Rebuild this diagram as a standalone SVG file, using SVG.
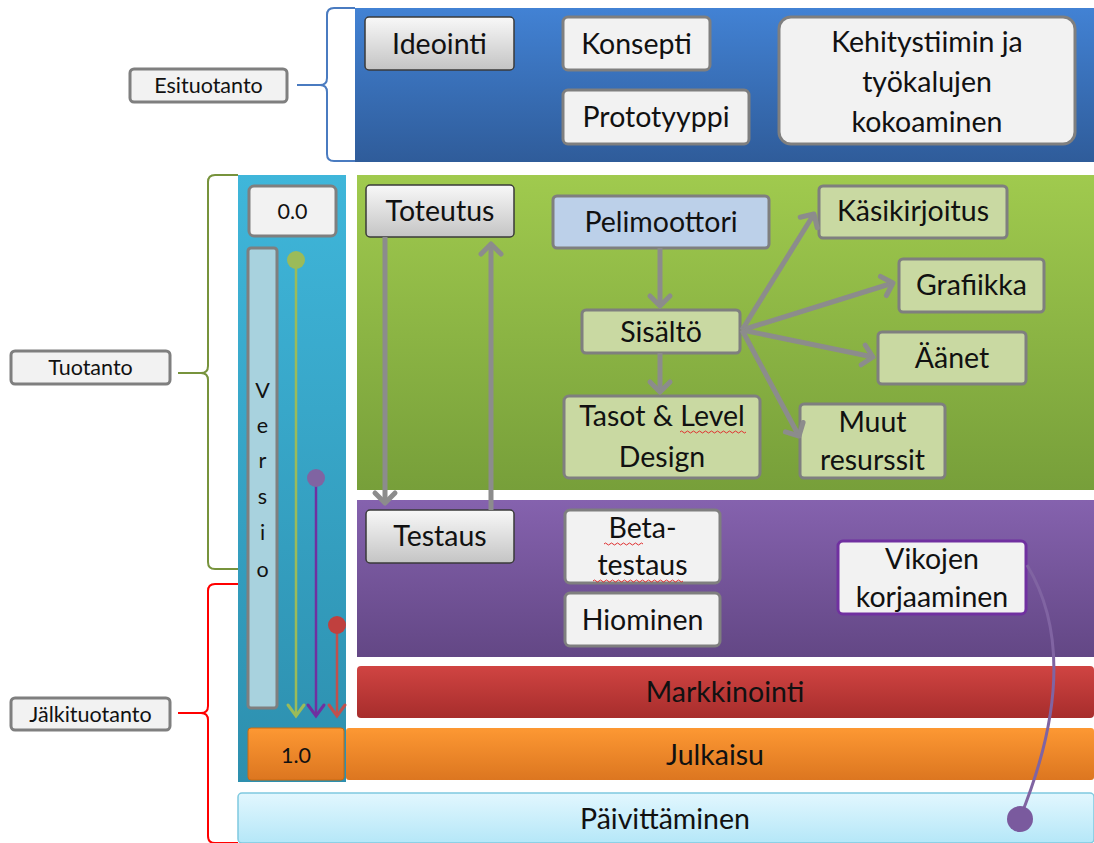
<svg xmlns="http://www.w3.org/2000/svg" width="1094" height="843" viewBox="0 0 1094 843">
<defs>
<linearGradient id="gBlue" x1="0" y1="0" x2="0" y2="1"><stop offset="0" stop-color="#4282d4"/><stop offset="1" stop-color="#2f5c9a"/></linearGradient>
<linearGradient id="gGreen" x1="0" y1="0" x2="0" y2="1"><stop offset="0" stop-color="#a0ca4e"/><stop offset="1" stop-color="#779f3a"/></linearGradient>
<linearGradient id="gPurple" x1="0" y1="0" x2="0" y2="1"><stop offset="0" stop-color="#8562ae"/><stop offset="1" stop-color="#634785"/></linearGradient>
<linearGradient id="gRed" x1="0" y1="0" x2="0" y2="1"><stop offset="0" stop-color="#d04442"/><stop offset="1" stop-color="#a72d2c"/></linearGradient>
<linearGradient id="gOrange" x1="0" y1="0" x2="0" y2="1"><stop offset="0" stop-color="#fd9833"/><stop offset="1" stop-color="#dc7620"/></linearGradient>
<linearGradient id="gCyan" x1="0" y1="0" x2="0" y2="1"><stop offset="0" stop-color="#3fb6da"/><stop offset="1" stop-color="#2d8fae"/></linearGradient>
<linearGradient id="gLight" x1="0" y1="0" x2="0" y2="1"><stop offset="0" stop-color="#e2f7fe"/><stop offset="1" stop-color="#b5e7f8"/></linearGradient>
<linearGradient id="gBtn" x1="0" y1="0" x2="0" y2="1"><stop offset="0" stop-color="#f8f8f8"/><stop offset="1" stop-color="#c4c4c4"/></linearGradient>
<marker id="aGray" markerUnits="userSpaceOnUse" viewBox="-14 -14 28 28" markerWidth="28" markerHeight="28" refX="0" refY="0" orient="auto" overflow="visible">
<path d="M-10,-10 L0,0 L-10,10" fill="none" stroke="#8c8c8c" stroke-width="5" stroke-linecap="round" stroke-linejoin="round"/>
</marker>
<marker id="aG" markerUnits="userSpaceOnUse" viewBox="-14 -14 28 28" markerWidth="28" markerHeight="28" refX="0" refY="0" orient="auto" overflow="visible">
<path d="M-11,-8 L0,0 L-11,8" fill="none" stroke="#9bbb59" stroke-width="3" stroke-linecap="round"/>
</marker>
<marker id="aP" markerUnits="userSpaceOnUse" viewBox="-14 -14 28 28" markerWidth="28" markerHeight="28" refX="0" refY="0" orient="auto" overflow="visible">
<path d="M-11,-8 L0,0 L-11,8" fill="none" stroke="#7030a0" stroke-width="3" stroke-linecap="round"/>
</marker>
<marker id="aR" markerUnits="userSpaceOnUse" viewBox="-14 -14 28 28" markerWidth="28" markerHeight="28" refX="0" refY="0" orient="auto" overflow="visible">
<path d="M-11,-8 L0,0 L-11,8" fill="none" stroke="#c0504d" stroke-width="3" stroke-linecap="round"/>
</marker>
</defs>
<style>
text{font-family:Lato,"Liberation Sans",sans-serif;fill:#111;text-anchor:middle}
.t{font-size:28.5px}
.s{font-size:21.5px}
.box{fill:#f2f2f2;stroke:#7f7f7f;stroke-width:3}
.gbox{fill:#c9d9a2;stroke:#7f7f7f;stroke-width:3}
.btn{fill:url(#gBtn);stroke:#3a3a3a;stroke-width:1.5}
.lab{fill:#f2f2f2;stroke:#7f7f7f;stroke-width:3}
.brace{fill:none;stroke-width:2}
.conn{fill:none;stroke:#8c8c8c;stroke-width:5;marker-end:url(#aGray)}
</style>
<rect width="1094" height="843" fill="#ffffff"/>

<g id="bands">
<rect x="355" y="8" width="739" height="154" fill="url(#gBlue)"/>
<rect x="238" y="175" width="108" height="607" fill="url(#gCyan)"/>
<rect x="357" y="175" width="737" height="315" fill="url(#gGreen)"/>
<rect x="357" y="500" width="737" height="157" fill="url(#gPurple)"/>
<rect x="357" y="666" width="737" height="52" rx="4" fill="url(#gRed)"/>
<rect x="346" y="728" width="748" height="52" rx="3" fill="url(#gOrange)"/>
</g>

<g id="esituotanto">
<rect class="lab" x="130" y="69" width="157" height="33" rx="4"/>
<text class="s" x="208.5" y="93">Esituotanto</text>
<path class="brace" stroke="#4a7bc0" d="M355,8 L334,8 Q327,8 327,15 L327,78 Q327,85 320,85 L297,85 M320,85 Q327,85 327,92 L327,154 Q327,161 334,161 L355,161"/>
</g>
<g id="tuotanto">
<rect class="lab" x="11" y="351" width="159" height="33" rx="4"/>
<text class="s" x="90.5" y="375">Tuotanto</text>
<path class="brace" stroke="#77933c" d="M238,175 L215,175 Q208,175 208,182 L208,366 Q208,373 201,373 L178,373 M201,373 Q208,373 208,380 L208,562 Q208,569 215,569 L238,569"/>
</g>
<g id="jalkituotanto">
<rect class="lab" x="11" y="698" width="159" height="32" rx="4"/>
<text class="s" x="90.5" y="722">Jälkituotanto</text>
<path class="brace" stroke="#ff0000" d="M238,584 L215,584 Q208,584 208,591 L208,706 Q208,713 201,713 L178,713 M201,713 Q208,713 208,720 L208,836 Q208,843 215,843 L238,843"/>
</g>

<g id="ideointi"><rect class="btn" x="365" y="17" width="149" height="53" rx="4"/><text class="t" x="439.5" y="54">Ideointi</text></g>
<g id="konsepti"><rect class="box" x="563" y="17" width="147" height="53" rx="5"/><text class="t" x="636.5" y="54">Konsepti</text></g>
<g id="prototyyppi"><rect class="box" x="563" y="90" width="186" height="54" rx="5"/><text class="t" x="656" y="127">Prototyyppi</text></g>
<g id="kehitystiimi"><rect class="box" x="779" y="17" width="296" height="127" rx="12"/><text class="t" x="927" y="52">Kehitystiimin ja</text><text class="t" x="927" y="92">työkalujen</text><text class="t" x="927" y="132">kokoaminen</text></g>

<g id="v00"><rect class="box" x="249" y="186" width="87" height="50" rx="5"/><text class="s" x="292.5" y="219">0.0</text></g>
<g id="versio"><rect x="248" y="248" width="29" height="460" rx="3" fill="#a8d2de" stroke="#7f7f7f" stroke-width="3"/>
<text class="s" x="262.5" y="398">V</text><text class="s" x="262.5" y="433">e</text><text class="s" x="262.5" y="468">r</text><text class="s" x="262.5" y="504">s</text><text class="s" x="262.5" y="540">i</text><text class="s" x="262.5" y="577">o</text></g>
<g id="v10"><rect x="248" y="728" width="96" height="52" rx="3" fill="url(#gOrange)" stroke="#c86a10" stroke-width="1"/><text class="s" x="296" y="763">1.0</text></g>

<g id="toteutus"><rect class="btn" x="366" y="185" width="148" height="52" rx="4"/><text class="t" x="440" y="221">Toteutus</text></g>
<g id="testaus"><rect class="btn" x="366" y="510" width="148" height="53" rx="4"/><text class="t" x="440" y="546">Testaus</text></g>
<g id="pelimoottori"><rect x="553" y="196" width="216" height="52" rx="4" fill="#bcd0e9" stroke="#7f7f7f" stroke-width="3"/><text class="t" x="661" y="232">Pelimoottori</text></g>
<g id="sisalto"><rect class="gbox" x="582" y="310" width="158" height="43" rx="4"/><text class="t" x="661" y="342">Sisältö</text></g>
<g id="tasot"><rect class="gbox" x="564" y="396" width="196" height="82" rx="5"/><text class="t" x="662" y="426">Tasot &amp; Level</text><text class="t" x="662" y="467">Design</text><path d="M680,432 q1.5,-2 3,0 t3,0 t3,0 t3,0 t3,0 t3,0 t3,0 t3,0 t3,0 t3,0 t3,0 t3,0 t3,0 t3,0 t3,0 t3,0 t3,0 t3,0 t3,0 t3,0 t3,0 t3,0" fill="none" stroke="#e03030" stroke-width="1"/></g>
<g id="kasikirjoitus"><rect class="gbox" x="819" y="186" width="188" height="52" rx="4"/><text class="t" x="913" y="221">Käsikirjoitus</text></g>
<g id="grafiikka"><rect class="gbox" x="899" y="259" width="145" height="53" rx="4"/><text class="t" x="971.5" y="295">Grafiikka</text></g>
<g id="aanet"><rect class="gbox" x="878" y="332" width="148" height="52" rx="4"/><text class="t" x="952" y="368">Äänet</text></g>
<g id="muut"><rect class="gbox" x="800" y="404" width="145" height="74" rx="4"/><text class="t" x="872.5" y="432">Muut</text><text class="t" x="872.5" y="470">resurssit</text></g>

<g id="betatestaus"><rect class="box" x="565" y="510" width="155" height="73" rx="5"/><text class="t" x="642.5" y="538">Beta-</text><text class="t" x="642.5" y="575">testaus</text>
<path d="M604,544 q1.5,-2 3,0 t3,0 t3,0 t3,0 t3,0 t3,0 t3,0 t3,0 t3,0 t3,0 t3,0 t3,0 t3,0 M593,581 q1.5,-2 3,0 t3,0 t3,0 t3,0 t3,0 t3,0 t3,0 t3,0 t3,0 t3,0 t3,0 t3,0 t3,0 t3,0 t3,0 t3,0 t3,0 t3,0 t3,0 t3,0 t3,0 t3,0 t3,0 t3,0 t3,0 t3,0 t3,0 t3,0 t3,0 t3,0" fill="none" stroke="#e03030" stroke-width="1"/></g>
<g id="hiominen"><rect class="box" x="565" y="593" width="155" height="53" rx="5"/><text class="t" x="642.5" y="630">Hiominen</text></g>
<g id="vikojen"><rect x="838" y="541" width="188" height="73" rx="5" fill="#f2f2f2" stroke="#7030a0" stroke-width="3"/><text class="t" x="932" y="569">Vikojen</text><text class="t" x="932" y="607">korjaaminen</text></g>
<g id="markkinointi"><text class="t" x="725" y="702">Markkinointi</text></g>
<g id="julkaisu"><text class="t" x="715" y="765">Julkaisu</text></g>
<g id="paivittaminen"><rect x="238" y="793" width="856" height="50" rx="4" fill="url(#gLight)" stroke="#7fc9df" stroke-width="1.5"/><text class="t" x="665" y="829">Päivittäminen</text></g>

<g id="connectors">
<line class="conn" x1="385" y1="237" x2="385" y2="503"/>
<line class="conn" x1="491" y1="510" x2="491" y2="244"/>
<line class="conn" x1="660" y1="248" x2="660" y2="306"/>
<line class="conn" x1="660" y1="353" x2="660" y2="392"/>
<line class="conn" x1="742" y1="330" x2="814" y2="214"/>
<line class="conn" x1="742" y1="330" x2="893" y2="283"/>
<line class="conn" x1="742" y1="330" x2="873" y2="357"/>
<line class="conn" x1="742" y1="330" x2="799" y2="436"/>
<line x1="296" y1="260" x2="296" y2="716" stroke="#9bbb59" stroke-width="2.5" marker-end="url(#aG)"/>
<circle cx="296" cy="260" r="9" fill="#9bbb59"/>
<line x1="316" y1="478" x2="316" y2="716" stroke="#7030a0" stroke-width="2.5" marker-end="url(#aP)"/>
<circle cx="316" cy="478" r="9" fill="#8064a2"/>
<line x1="337" y1="625" x2="337" y2="716" stroke="#c0504d" stroke-width="2.5" marker-end="url(#aR)"/>
<circle cx="337" cy="625" r="9" fill="#c0403e"/>
<path d="M1027,565 C1060,620 1068,700 1020,818" fill="none" stroke="#8064a2" stroke-width="3"/>
<circle cx="1020" cy="819" r="13" fill="#7a5a9e"/>
</g>
</svg>
